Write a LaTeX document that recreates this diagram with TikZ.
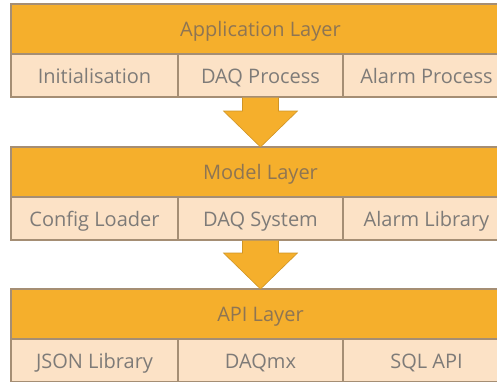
\documentclass[tikz,border=0pt]{standalone}
\usepackage{fontspec}
\setmainfont{Open Sans}
\usetikzlibrary{calc,positioning}
\definecolor{layerorange}{HTML}{F5AF2C}
\definecolor{cellpeach}{HTML}{FCE2C6}
\definecolor{edgegray}{HTML}{A58E74}
\definecolor{headtext}{HTML}{8E7553}
\definecolor{celltext}{HTML}{7E7B78}
\tikzset{
  layerhead/.style={draw=edgegray, fill=layerorange, text=headtext, minimum width=499pt, minimum height=50pt, inner sep=0pt, outer sep=0pt, text height=17pt, text depth=2pt, font=\fontsize{20}{24}\selectfont},
  layercell/.style={draw=edgegray, fill=cellpeach, text=celltext, minimum height=43pt, inner sep=0pt, outer sep=0pt, text height=17pt, text depth=2pt, font=\fontsize{20}{24}\selectfont},
  blockarrow/.style={fill=layerorange, draw=layerorange!85!black, line width=0.6pt, line join=miter}
}

\begin{document}
\begin{tikzpicture}[x=1pt,y=-1pt,line width=1.1pt]
    \useasboundingbox (0,0) rectangle (497,381);
    \clip (0,0) rectangle (497,381);

    % application layer
    \node[layerhead] (app) at (260.5,29) {Application Layer};
    \node[layercell, minimum width=167pt, anchor=north west] (init) at (app.south west) {Initialisation};
    \node[layercell, minimum width=165pt, anchor=north west] (daqproc) at (init.north east) {DAQ Process};
    \node[layercell, minimum width=167pt, anchor=north west] (alarmproc) at (daqproc.north east) {Alarm Process};

    % model layer
    \node[layerhead] (model) at (260.5,172) {Model Layer};
    \node[layercell, minimum width=167pt, anchor=north west] (config) at (model.south west) {Config Loader};
    \node[layercell, minimum width=165pt, anchor=north west] (daqsys) at (config.north east) {DAQ System};
    \node[layercell, minimum width=167pt, anchor=north west] (alarmlib) at (daqsys.north east) {Alarm Library};

    % api layer
    \node[layerhead] (api) at (260.5,314) {API Layer};
    \node[layercell, minimum width=167pt, anchor=north west] (json) at (api.south west) {JSON Library};
    \node[layercell, minimum width=165pt, anchor=north west] (daqmx) at (json.north east) {DAQmx};
    \node[layercell, minimum width=167pt, anchor=north west] (sqlapi) at (daqmx.north east) {SQL API};

    % arrows between layers
    \foreach \from/\to in {daqproc/model, daqsys/api}
      \draw[blockarrow] ($(\from.south)+(-18,0.6)$) -- ($(\to.north)+(-18,-36)$) -- ($(\to.north)+(-37,-36)$)
        -- (\to.north) -- ($(\to.north)+(37,-36)$) -- ($(\to.north)+(18,-36)$) -- ($(\from.south)+(18,0.6)$);
\end{tikzpicture}
\end{document}
